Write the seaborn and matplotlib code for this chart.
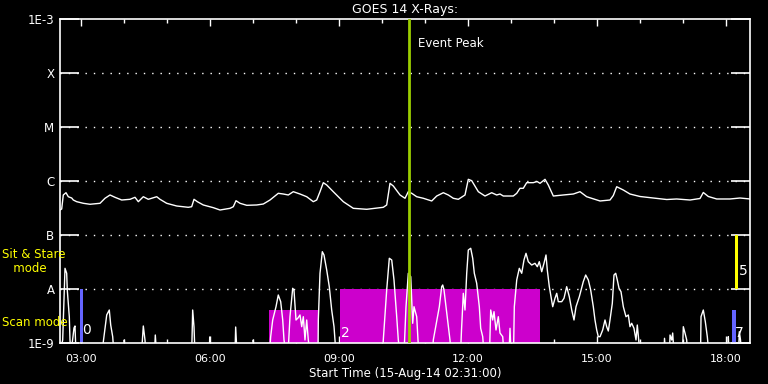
import numpy as np
import matplotlib
matplotlib.use('Agg')
import matplotlib.pyplot as plt
from matplotlib.ticker import FixedLocator, NullFormatter
import seaborn as sns

# time in hours of day (15-Aug-14), flux as log10(W/m^2)
long_hours = [2.517, 2.556, 2.593, 2.656, 2.710, 2.789, 2.826, 2.905, 3.059, 3.214, 3.447, 3.563, 3.680, 3.796,
              3.952, 4.145, 4.261, 4.338, 4.454, 4.570, 4.766, 4.842, 4.998, 5.231, 5.500, 5.579, 5.633, 5.710,
              5.849, 6.082, 6.238, 6.470, 6.547, 6.610, 6.703, 6.859, 7.091, 7.245, 7.400, 7.593, 7.710, 7.826,
              7.942, 8.098, 8.254, 8.407, 8.486, 8.563, 8.640, 8.719, 8.872, 9.105, 9.338, 9.649, 10.035, 10.114,
              10.191, 10.268, 10.424, 10.540, 10.617, 10.696, 10.812, 10.966, 11.161, 11.277, 11.431, 11.547,
              11.663, 11.780, 11.935, 12.012, 12.091, 12.245, 12.400, 12.556, 12.672, 12.749, 12.826, 13.059,
              13.138, 13.214, 13.291, 13.370, 13.524, 13.610, 13.680, 13.796, 13.872, 13.989, 14.222, 14.454,
              14.610, 14.765, 15.075, 15.307, 15.384, 15.463, 15.617, 15.772, 16.005, 16.314, 16.626, 16.858,
              17.168, 17.400, 17.477, 17.594, 17.789, 18.098, 18.331, 18.563]
long_flux = [-6.537, -6.519, -6.259, -6.217, -6.291, -6.315, -6.352, -6.383, -6.413, -6.431, -6.413, -6.320,
             -6.259, -6.302, -6.352, -6.339, -6.302, -6.383, -6.291, -6.339, -6.291, -6.339, -6.413, -6.463,
             -6.487, -6.476, -6.339, -6.383, -6.444, -6.494, -6.537, -6.506, -6.476, -6.365, -6.413, -6.450,
             -6.444, -6.426, -6.352, -6.228, -6.241, -6.259, -6.198, -6.241, -6.291, -6.383, -6.352, -6.198,
             -6.031, -6.074, -6.198, -6.383, -6.506, -6.524, -6.487, -6.444, -6.043, -6.093, -6.259, -6.320,
             -6.198, -6.228, -6.291, -6.320, -6.370, -6.278, -6.217, -6.259, -6.320, -6.339, -6.259, -5.969,
             -5.994, -6.198, -6.278, -6.217, -6.259, -6.241, -6.278, -6.278, -6.228, -6.135, -6.135, -6.031,
             -6.031, -6.009, -6.043, -5.969, -6.074, -6.278, -6.259, -6.241, -6.198, -6.291, -6.370, -6.352,
             -6.269, -6.106, -6.167, -6.241, -6.287, -6.315, -6.343, -6.333, -6.352, -6.324, -6.213, -6.287,
             -6.333, -6.333, -6.315, -6.333]

F = -9.2  # below the plot floor
short_hours = [2.517, 2.579, 2.633, 2.672, 2.686, 2.733, 2.749, 2.772, 2.842, 2.865, 2.889,
               3.505, 3.524, 3.603, 3.663, 3.696, 3.742, 3.772,
               4.005, 4.012, 4.028, 4.412, 4.454, 4.493, 4.517, 4.714, 4.733, 4.761,
               5.579, 5.602, 5.633, 5.656, 5.989, 5.998, 6.017, 6.586, 6.602, 6.633, 7.005, 7.012, 7.028,
               7.389, 7.416, 7.463, 7.540, 7.593, 7.649, 7.696, 7.726, 7.772, 7.819, 7.865, 7.928, 7.958,
               8.005, 8.051, 8.098, 8.138, 8.175, 8.214, 8.254, 8.291, 8.331,
               8.517, 8.524, 8.563, 8.617, 8.656, 8.719, 8.779, 8.835, 8.889, 8.912, 8.935,
               10.016, 10.035, 10.114, 10.175, 10.231, 10.284, 10.347, 10.384, 10.424,
               10.517, 10.563, 10.617, 10.673, 10.719, 10.749, 10.812, 10.842, 10.865,
               11.179, 11.198, 11.261, 11.338, 11.393, 11.417, 11.447, 11.493, 11.547, 11.586, 11.610,
               11.831, 11.854, 11.896, 11.935, 11.975, 12.012, 12.068, 12.114, 12.152, 12.207, 12.268,
               12.300, 12.347, 12.377,
               12.505, 12.533, 12.579, 12.610, 12.656, 12.710, 12.749, 12.812, 12.842,
               12.958, 12.982, 13.005,
               13.063, 13.082, 13.138, 13.198, 13.254, 13.307, 13.354, 13.407, 13.486, 13.563, 13.617,
               13.663, 13.719, 13.772, 13.819, 13.849, 13.896, 13.935, 13.975, 14.028, 14.068, 14.105,
               14.184, 14.237, 14.300, 14.361, 14.417, 14.470, 14.517, 14.594, 14.686, 14.742, 14.803,
               14.858, 14.919, 14.958, 14.998, 15.035, 15.075, 15.137, 15.191, 15.230, 15.268, 15.307,
               15.361, 15.400, 15.440, 15.477, 15.517, 15.563, 15.617, 15.679, 15.733, 15.772, 15.812,
               15.865, 15.912, 15.942, 15.975, 16.005,
               16.563, 16.575, 16.598, 16.691, 16.703, 16.742, 16.765, 16.796,
               16.993, 17.012, 17.051, 17.091, 17.109,
               17.412, 17.424, 17.477, 17.524, 17.570, 17.609,
               18.052, 18.059, 18.075, 18.296, 18.315, 18.342, 18.365, 18.563]
short_flux = [F, -8.944, -7.617, -7.709, -8.019, -8.513, -8.944, F, -8.722, -8.685, F,
              F, -8.976, -8.481, -8.389, -8.667, -8.883, F,
              F, -8.944, F, F, -8.685, -8.944, F, F, -8.852, F,
              F, -8.389, -8.704, F, F, -8.889, F, F, -8.704, F, F, -8.944, F,
              F, -8.883, -8.574, -8.328, -8.111, -8.235, -8.574, -8.944, F, F, -8.513, -7.987, -8.019,
              -8.574, -8.537, -8.481, -8.698, -8.513, -8.944, -8.574, -8.944, F,
              F, -8.574, -7.709, -7.309, -7.370, -7.648, -7.957, -8.389, -8.698, -8.944, F,
              F, -8.944, -8.019, -7.431, -7.463, -7.833, -8.513, -8.944, F,
              F, -8.328, -7.709, -7.772, -8.635, -8.328, -8.513, -8.944, F,
              F, -8.944, -8.667, -8.328, -7.957, -7.926, -8.019, -8.328, -8.698, -8.944, F,
              F, -8.759, -8.080, -8.389, -7.709, -7.278, -7.246, -7.431, -7.709, -7.894, -8.328,
              -8.728, -8.883, F,
              F, -8.389, -8.574, -8.420, -8.759, -8.513, -8.815, -8.883, F,
              F, -8.728, F,
              F, -8.328, -7.833, -7.617, -7.709, -7.463, -7.339, -7.494, -7.556, -7.524, -7.587,
              -7.494, -7.680, -7.524, -7.370, -7.648, -7.957, -8.143, -8.328, -8.172, -8.080, -8.235,
              -8.235, -8.172, -7.957, -8.143, -8.389, -8.574, -8.328, -8.143, -7.865, -7.741, -7.833,
              -8.019, -8.328, -8.574, -8.759, -8.883, -8.883, -8.759, -8.574, -8.698, -8.778, -8.574,
              -8.265, -7.741, -7.709, -7.833, -7.987, -8.050, -8.328, -8.513, -8.481, -8.698, -8.635,
              -8.728, -8.944, -8.667, -8.944, F,
              F, -8.913, F, F, -8.852, -8.944, -8.815, F,
              F, -8.698, -8.815, -8.944, F,
              F, -8.513, -8.389, -8.606, -8.883, F,
              F, -8.883, F, F, -8.791, -8.944, F, F]

# observing-mode blocks: (start hour, end hour, top log flux)
scan_blocks = [(7.384, 8.524, -8.389), (9.028, 13.680, -8.0)]
blue_bars = [(2.982, 3.052, -8.0), (18.144, 18.237, -8.389)]
stare_bars = [(18.214, 18.284, -7.0)]
mode_labels = [(3.03, -8.76, '0'), (9.05, -8.82, '2'), (18.30, -7.66, '5'), (18.22, -8.82, '7')]
event_peak = 10.633

t0 = 2 + 31 / 60
t1 = 18.563

sns.set_style('dark', {'axes.facecolor': 'black', 'figure.facecolor': 'black'})
plt.rcParams['font.family'] = ['DejaVu Sans']
plt.rcParams['text.color'] = 'white'

fig = plt.figure(figsize=(7.68, 3.84), dpi=100, facecolor='black')
ax = fig.add_axes([60 / 768, 41 / 384, 690 / 768, 324 / 384])
ax.set_facecolor('black')

for a, b, top in scan_blocks:
    ax.fill_between([a, b], 1e-9, 10 ** top, color='#cc00cc', lw=0, zorder=1)
for a, b, top in blue_bars:
    ax.fill_between([a, b], 1e-9, 10 ** top, color='#6464ff', lw=0, zorder=1)
for a, b, top in stare_bars:
    ax.fill_between([a, b], 1e-8, 10 ** top, color='#ffff00', lw=0, zorder=1)

for lv in [-8, -7, -6, -5, -4]:
    ax.axhline(10 ** lv, color='white', lw=1, ls=(0, (1, 5)), zorder=0)

sns.lineplot(x=long_hours, y=10 ** np.array(long_flux), color='white', lw=1,
             sort=False, estimator=None, ax=ax, zorder=3)
sns.lineplot(x=short_hours, y=10 ** np.array(short_flux), color='white', lw=1,
             sort=False, estimator=None, ax=ax, zorder=3)

ax.axvline(event_peak, color='#9acd00', lw=2, zorder=4)
ax.text(event_peak + 0.22, 10 ** -3.46, 'Event Peak', color='white', fontsize=8.5, va='center')

for h, lv, s in mode_labels:
    ax.text(h, 10 ** lv, s, color='white', fontsize=10, va='center', zorder=5)

ax.set_yscale('log')
ax.set_ylim(1e-9, 1e-3)
ax.set_xlim(t0, t1)
ax.yaxis.set_major_locator(FixedLocator([1e-9, 1e-8, 1e-7, 1e-6, 1e-5, 1e-4, 1e-3]))
ax.yaxis.set_minor_locator(FixedLocator([]))
ax.set_yticklabels(['1E-9', 'A', 'B', 'C', 'M', 'X', '1E-3'])
ax.set_xticks([3, 6, 9, 12, 15, 18])
ax.set_xticklabels(['03:00', '06:00', '09:00', '12:00', '15:00', '18:00'])
ax.xaxis.set_minor_locator(FixedLocator(np.arange(3, 19)))
ax.xaxis.set_minor_formatter(NullFormatter())

ax.tick_params(axis='y', which='major', direction='in', length=14, width=1.2, color='white',
               left=True, right=True, labelcolor='white', labelsize=8.5, pad=4)
ax.tick_params(axis='x', which='major', direction='in', length=5, width=1, color='white',
               top=True, bottom=True, labelcolor='white', labelsize=8, pad=8)
ax.tick_params(axis='x', which='minor', direction='in', length=3, width=1, color='white',
               top=True, bottom=True)
for sp in ax.spines.values():
    sp.set_color('white')
    sp.set_linewidth(1.2)
ax.grid(False)

ax.set_title('GOES 14 X-Rays:', color='white', fontsize=9, pad=4)
ax.set_xlabel('Start Time (15-Aug-14 02:31:00)', color='white', fontsize=8.5, labelpad=2)
ax.set_ylabel('')

fig.text(2 / 768, 1 - 262 / 384, 'Sit & Stare\n   mode', color='#ffff00', fontsize=8.5,
         va='center', ha='left', linespacing=1.1)
fig.text(2 / 768, 1 - 323 / 384, 'Scan mode', color='#ffff00', fontsize=8.5, va='center', ha='left')

fig.savefig('out.png', dpi=100, facecolor='black')
